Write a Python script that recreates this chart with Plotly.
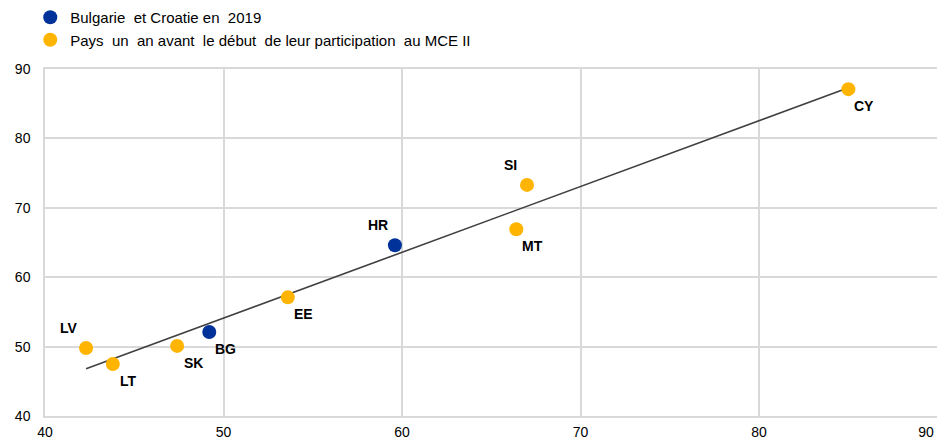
import plotly.graph_objects as go

# Data
bg_hr_codes = ["BG", "HR"]
bg_hr_x = [49.2, 59.6]
bg_hr_y = [52.1, 64.6]

erm_codes = ["LV", "LT", "SK", "EE", "MT", "SI", "CY"]
erm_x = [42.3, 43.8, 47.4, 53.6, 66.4, 67.0, 85.0]
erm_y = [49.8, 47.5, 50.1, 57.1, 66.9, 73.3, 87.1]

trend_x = [42.3, 85.0]
trend_y = [46.8, 87.3]

x_ticks = [40, 50, 60, 70, 80, 90]
x_ticktext = ["40", "50", "60", "70", "80", "90" + "\u00a0" * 6]
y_ticks = [40, 50, 60, 70, 80, 90]

# label placement: 'ul' = upper-left, 'lr' = lower-right
label_pos = {"LV": "ul", "LT": "lr", "SK": "lr", "EE": "lr", "MT": "lr",
             "SI": "ul", "CY": "lr", "BG": "lr", "HR": "ul"}

BLUE = "#003299"
YELLOW = "#FFB400"

fig = go.Figure()
fig.add_trace(go.Scatter(x=trend_x, y=trend_y, mode="lines",
                         line=dict(color="#404040", width=1.6),
                         showlegend=False, hoverinfo="skip"))
fig.add_trace(go.Scatter(x=bg_hr_x, y=bg_hr_y, mode="markers",
                         name="Bulgarie  et Croatie en  2019",
                         marker=dict(color=BLUE, size=14)))
fig.add_trace(go.Scatter(x=erm_x, y=erm_y, mode="markers",
                         name="Pays  un  an avant  le début  de leur participation  au MCE II",
                         marker=dict(color=YELLOW, size=14)))

annotations = []
for codes, xs, ys in [(bg_hr_codes, bg_hr_x, bg_hr_y), (erm_codes, erm_x, erm_y)]:
    for c, x, y in zip(codes, xs, ys):
        if label_pos[c] == "ul":
            xs_, ys_ = -17, 20
        else:
            xs_, ys_ = 16, -17
        annotations.append(dict(x=x, y=y, text="<b>%s</b>" % c, showarrow=False,
                                xshift=xs_, yshift=ys_,
                                font=dict(family="Liberation Sans, Arial", size=14, color="#000000")))

fig.update_layout(
    width=937, height=433,
    margin=dict(l=37, r=7, t=61, b=25, autoexpand=False),
    paper_bgcolor="white", plot_bgcolor="white",
    font=dict(family="Liberation Sans, Arial", size=14, color="#000000"),
    legend=dict(x=-0.0165, y=1.196, xref="paper", yref="paper",
                xanchor="left", yanchor="top",
                orientation="v", font=dict(size=15), itemwidth=30,
                tracegroupgap=0, bgcolor="rgba(0,0,0,0)"),
    annotations=annotations,
    showlegend=True,
)
fig.update_xaxes(range=[40, 90.02], tickvals=x_ticks, ticktext=x_ticktext,
                 showgrid=True,
                 gridcolor="#d9d9d9", gridwidth=1.5, zeroline=False,
                 showline=True, linecolor="#d9d9d9", linewidth=1.5, mirror=True,
                 ticks="", tickfont=dict(size=14), ticklabelstandoff=2,
                 ticklabeloverflow="allow")
fig.update_yaxes(range=[40, 90], tickvals=y_ticks, showgrid=True,
                 gridcolor="#d9d9d9", gridwidth=1.5, zeroline=False,
                 showline=True, linecolor="#d9d9d9", linewidth=1.5, mirror=True,
                 ticks="", tickfont=dict(size=14), ticklabelstandoff=10,
                 ticklabeloverflow="allow")

fig.write_html("out.html")
